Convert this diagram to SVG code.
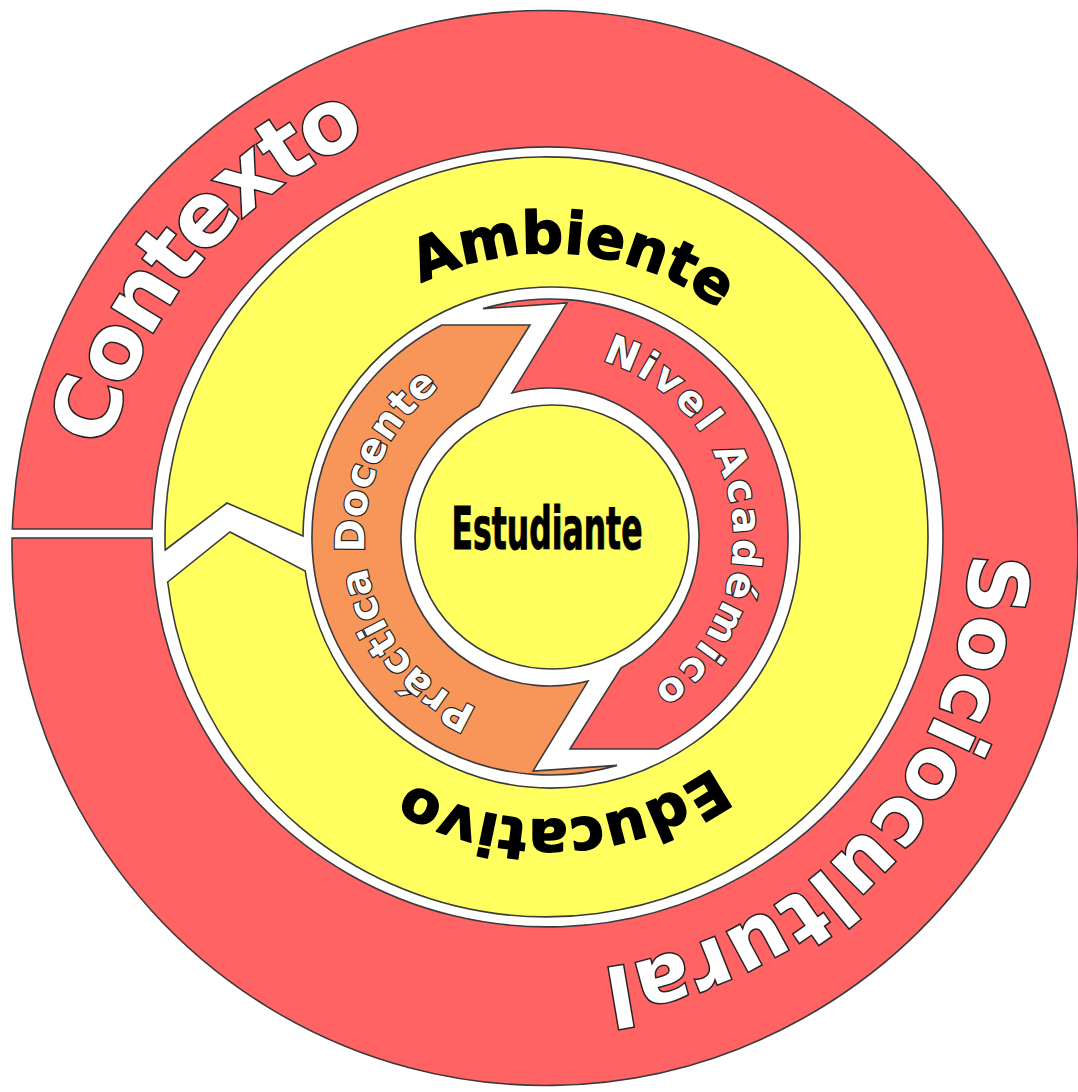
<svg xmlns="http://www.w3.org/2000/svg" width="1078" height="1092" viewBox="0 0 1078 1092">
  <style>
    .shape { stroke: #3a3a3a; stroke-width: 1.6; stroke-linejoin: miter; }
    .red { fill: #FF6363; }
    .yellow { fill: #FFFF60; }
    .orange { fill: #F8965A; }
    .big { font-family: "DejaVu Sans", "Liberation Sans", sans-serif; font-weight: bold; fill: #ffffff; stroke: #222222; stroke-width: 3; paint-order: stroke; }
    .mid { font-family: "DejaVu Sans", "Liberation Sans", sans-serif; font-weight: bold; fill: #000000; stroke: #000000; stroke-width: 1.6; stroke-linejoin: round; }
    .small { font-family: "DejaVu Sans", "Liberation Sans", sans-serif; font-weight: bold; fill: #ffffff; stroke: #222222; stroke-width: 2.4; paint-order: stroke; }
    .center { font-family: "Liberation Sans Narrow", "DejaVu Sans Condensed", "Liberation Sans", sans-serif; font-weight: bold; fill: #000000; stroke: #000000; stroke-width: 1; }
  </style>
  <defs>
    <path id="p-contexto" d="M 248.8 882.3 A 447 447 0 0 1 817.1 192.9"/>
    <path id="p-socio" d="M 837.6 239.2 A 425 425 0 0 1 274.7 875.4"/>
    <path id="p-ambiente" d="M 267.1 502.4 A 284 284 0 0 1 832.6 551.9"/>
    <path id="p-educativo" d="M 831.96 532.06 A 283 283 0 0 1 267.1 561.7"/>
    <path id="p-nivel" d="M 529.2 354.2 A 184 184 0 0 1 583.5 717.9"/>
    <path id="p-practica" d="M 564.9 722.4 A 186 186 0 0 1 522.2 353.1"/>
  </defs>
  <rect width="1078" height="1092" fill="#ffffff"/>

  <g id="contexto-sociocultural">
    <path class="shape red" d="M 12.32 529 A 533 537.5 0 1 1 12.08 538 L 152 538 A 395.5 390 0 1 0 152.08 529 Z"/>
    <text class="big" font-size="88" letter-spacing="-4"><textPath href="#p-contexto" startOffset="50%" text-anchor="middle">Contexto</textPath></text>
    <text class="big" font-size="82"><textPath href="#p-socio" startOffset="50%" text-anchor="middle">Sociocultural</textPath></text>
  </g>

  <g id="ambiente-educativo">
    <path class="shape yellow" d="M 165.22 550 L 227 503 L 303 536 A 248.5 250.5 0 1 1 305.23 571 L 230 532 L 167.69 582 A 381.5 380 0 1 0 165.22 550 Z"/>
    <text class="mid" font-size="58"><textPath href="#p-ambiente" startOffset="50%" text-anchor="middle">Ambiente</textPath></text>
    <text class="mid" font-size="58"><textPath href="#p-educativo" startOffset="50%" text-anchor="middle">Educativo</textPath></text>
  </g>

  <g id="practica-docente">
    <path class="shape orange" d="M 441.83 325 L 530 325 L 478.97 406 A 149 149 0 0 0 588 681.07 L 533 771 L 617 765.38 A 238 238 0 0 1 441.83 325 Z"/>
    <text class="small" font-size="40" letter-spacing="0.5"><textPath href="#p-practica" startOffset="50%" text-anchor="middle">Práctica Docente</textPath></text>
  </g>

  <g id="nivel-academico">
    <path class="shape red" d="M 483 308.62 A 238 238 0 0 1 658.17 749 L 570 749 L 621.03 668 A 149 149 0 0 0 512 392.93 L 567 303 Z"/>
    <text class="small" font-size="40" letter-spacing="3"><textPath href="#p-nivel" startOffset="50%" text-anchor="middle">Nivel Académico</textPath></text>
  </g>

  <g id="estudiante">
    <ellipse class="shape yellow" cx="552" cy="537" rx="137" ry="132"/>
    <text class="center" x="547" y="549" font-size="58" text-anchor="middle" textLength="191" lengthAdjust="spacingAndGlyphs">Estudiante</text>
  </g>

  <g id="connectors"/>
</svg>
